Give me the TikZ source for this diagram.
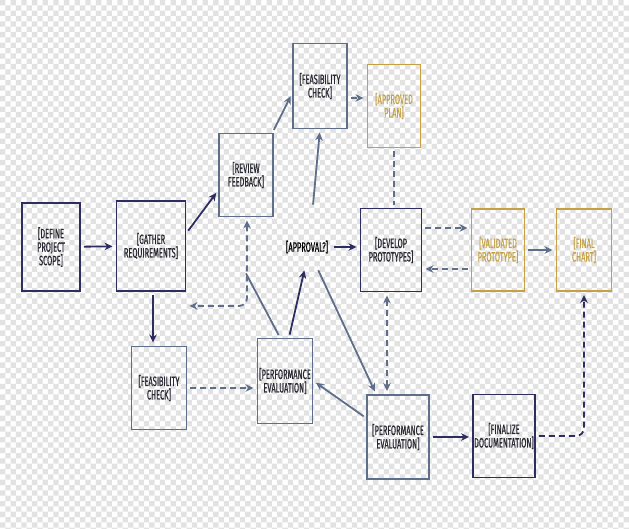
\documentclass[tikz,border=0pt]{standalone}
\usepackage{fontspec}
\setmainfont{Fira Sans}[FakeStretch=0.55, FakeBold=0.6]
\usetikzlibrary{positioning, arrows.meta}
\definecolor{navy}{RGB}{45,45,95}
\definecolor{slate}{RGB}{95,110,138}
\definecolor{gold}{RGB}{198,160,66}
\definecolor{boxtext}{RGB}{40,40,50}
\definecolor{checker}{RGB}{226,226,226}
\tikzset{
box/.style={draw, line width=1.9pt, minimum width=55pt, minimum height=84pt, inner sep=0pt, align=center, text=boxtext, font=\fontsize{13.5}{13.5}\selectfont},
navybox/.style={box, draw=navy},
slatebox/.style={box, draw=slate},
goldbox/.style={box, draw=gold, text=gold},
hidden/.style={inner xsep=3pt, inner ysep=14pt, text=black, font=\fontsize{13.5}{13.5}\selectfont},
link/.style={line width=1.8pt, shorten >=3pt, shorten <=3pt},
tip/.style={link, -{Stealth[length=8pt, width=7.5pt, inset=2.5pt]}},
both/.style={link, {Stealth[length=8pt, width=7.5pt, inset=2.5pt]}-{Stealth[length=8pt, width=7.5pt, inset=2.5pt]}},
dashline/.style={dash pattern=on 6pt off 4pt},
}

\begin{document}
\begin{tikzpicture}[x=1pt, y=-1pt]
    \useasboundingbox (0,0) rectangle (629,529);

    %background
    \foreach \r in {0,...,99} {
        \pgfmathtruncatemacro\off{mod(\r,2)}
        \fill[checker] \foreach \c in {0,...,59} {({(2*\c+\off)*5.33},{\r*5.33}) rectangle ++(5.33,5.33)};
    }

    %nodes
    \node[navybox, minimum width=58pt, minimum height=88pt] (scope) at (51,247) {[DEFINE\\PROJECT\\SCOPE]};
    \node[navybox, minimum width=69pt, minimum height=90pt] (gather) at (151,246) {[GATHER\\REQUIREMENTS]};
    \node[slatebox, minimum width=54pt, minimum height=83pt] (review) at (246,175) {[REVIEW\\FEEDBACK]};
    \node[slatebox, minimum width=54pt, minimum height=85pt] (feasT) at (320,86) {[FEASIBILITY\\CHECK]};
    \node[goldbox, minimum width=53pt, minimum height=83pt] (approved) at (394,106) {[APPROVED\\PLAN]};
    \node[hidden] (approval) at (307,247) {[APPROVAL?]};
    \node[navybox, minimum width=61pt, minimum height=83pt] (develop) at (391,250) {[DEVELOP\\PROTOTYPES]};
    \node[goldbox, minimum width=53pt, minimum height=82pt] (validated) at (498,250) {[VALIDATED\\PROTOTYPE]};
    \node[goldbox, minimum width=55pt, minimum height=82pt] (final) at (584,250) {[FINAL\\CHART]};
    \node[slatebox, minimum width=55pt, minimum height=83pt] (feasB) at (159,388) {[FEASIBILITY\\CHECK]};
    \node[slatebox, minimum width=55pt, minimum height=85pt] (perfL) at (285,381) {[PERFORMANCE\\EVALUATION]};
    \node[slatebox, minimum width=62pt, minimum height=84pt] (perfB) at (398,437) {[PERFORMANCE\\EVALUATION]};
    \node[navybox, minimum width=62pt, minimum height=83pt] (finalize) at (504,436) {[FINALIZE\\DOCUMENTATION]};
    \coordinate (fbjoin) at ([yshift=-56pt]review.south);

    %solid arrows
    \draw[tip, navy] (scope) -- (gather);
    \draw[tip, navy] (gather.20) -- (review.209);
    \draw[tip, slate] (review.58) -- (feasT.195);
    \draw[tip, slate, shorten <=22pt] ([xshift=4pt]approval.north) -- (feasT.south);
    \draw[tip, navy] (approval.east) -- (approval.east -| develop.west);
    \draw[tip, navy] ([xshift=4pt]perfL.north) -- ([xshift=-2pt]approval.south);
    \draw[tip, slate] ([xshift=10pt]approval.south) -- ([xshift=10pt]perfB.north west);
    \draw[tip, slate] ([yshift=19pt]perfB.west) -- (perfL.east);
    \draw[link, slate, shorten >=0pt] ([xshift=-5pt]perfL.north) -- (fbjoin);
    \draw[tip, navy] ([xshift=2pt]gather.south) -- ([xshift=2pt]gather.south |- feasB.north);
    \draw[tip, slate] (validated) -- (final);
    \draw[tip, navy] (perfB.east) -- (perfB.east -| finalize.west);

    %dashed arrows
    \draw[tip, slate, dashline] ([yshift=-12pt]feasT.east) -- ([yshift=-12pt]feasT.east -| approved.west);
    \draw[link, slate, dashline] (approved.south) -- (approved.south |- develop.north);
    \draw[both, slate, dashline, rounded corners=8pt] ([xshift=1pt]review.south) |- ([yshift=-14pt]gather.south east);
    \draw[tip, slate, dashline] (feasB.east) -- (feasB.east -| perfL.west);
    \draw[both, slate, dashline] ([xshift=-4pt]develop.south) -- ([xshift=-4pt]develop.south |- perfB.north);
    \draw[tip, slate, dashline] ([yshift=22pt]develop.east) -- ([yshift=22pt]develop.east -| validated.west);
    \draw[tip, slate, dashline] ([yshift=-19pt]develop.east -| validated.west) -- ([yshift=-19pt]develop.east);
    \draw[tip, navy, dashline, rounded corners=8pt] (finalize.east) -| (final.south);

\end{tikzpicture}
\end{document}
